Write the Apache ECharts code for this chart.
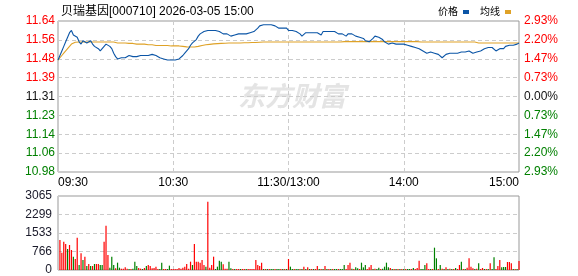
<!DOCTYPE html>
<html><head><meta charset="utf-8">
<script src="https://cdn.jsdelivr.net/npm/echarts@6/dist/echarts.min.js"></script>
<style>html,body{margin:0;padding:0;background:#fff;}#c{width:578px;height:276px;}</style>
</head><body><div id="c"></div>
<script>
const title = '贝瑞基因[000710] 2026-03-05 15:00';
const preClose = 11.31;
const priceMin = 10.9786, priceMax = 11.6414, priceStep = 0.08285;
const pctStep = 0.7325;
const priceTicks = ['10.98','11.06','11.14','11.23','11.31','11.39','11.48','11.56','11.64'];
const pctTicks = ['2.93%','2.20%','1.47%','0.73%','0.00%','0.73%','1.47%','2.20%','2.93%'];
const volTicks = ['0','766','1533','2299','3065'];
const timeTicks = ['09:30','10:30','11:30/13:00','14:00','15:00'];

const price = [
11.47,11.49,11.51,11.53,11.55,11.57,11.59,11.60,11.58,11.585,
11.57,11.55,11.54,11.555,11.56,11.545,11.55,11.555,11.54,11.53,
11.535,11.52,11.51,11.52,11.53,11.54,11.545,11.53,11.52,11.50,
11.485,11.475,11.48,11.48,11.475,11.48,11.48,11.49,11.495,11.485,
11.49,11.485,11.49,11.49,11.485,11.49,11.485,11.49,11.49,11.495,
11.495,11.49,11.485,11.48,11.48,11.475,11.475,11.47,11.475,11.47,
11.475,11.47,11.47,11.475,11.48,11.49,11.50,11.51,11.52,11.535,
11.545,11.55,11.56,11.575,11.585,11.59,11.595,11.60,11.60,11.60,
11.60,11.60,11.60,11.60,11.595,11.59,11.585,11.58,11.585,11.58,
11.575,11.58,11.58,11.58,11.585,11.58,11.585,11.585,11.585,11.585,
11.59,11.595,11.595,11.60,11.61,11.62,11.625,11.625,11.625,11.625,
11.625,11.625,11.62,11.62,11.615,11.61,11.61,11.61,11.61,11.61,
11.60,11.60,11.60,11.60,11.595,11.59,11.585,11.575,11.58,11.59,
11.59,11.59,11.59,11.59,11.59,11.59,11.59,11.58,11.595,11.595,
11.595,11.595,11.595,11.60,11.595,11.59,11.585,11.58,11.585,11.58,
11.575,11.585,11.59,11.585,11.58,11.575,11.575,11.57,11.565,11.565,
11.555,11.55,11.55,11.555,11.565,11.575,11.58,11.57,11.565,11.56,
11.55,11.545,11.54,11.535,11.545,11.54,11.54,11.54,11.54,11.54,
11.54,11.54,11.535,11.535,11.53,11.53,11.525,11.525,11.52,11.515,
11.51,11.505,11.50,11.505,11.505,11.50,11.50,11.505,11.495,11.49,
11.48,11.485,11.495,11.495,11.50,11.495,11.50,11.495,11.50,11.50,
11.505,11.50,11.505,11.505,11.51,11.505,11.50,11.505,11.505,11.51,
11.51,11.515,11.52,11.525,11.525,11.525,11.525,11.52,11.51,11.515,
11.52,11.52,11.52,11.53,11.535,11.535,11.535,11.535,11.54,11.54,
11.545];

const avg = [
11.47,11.48,11.49,11.50,11.51,11.52,11.53,11.54,11.545,11.548,
11.549,11.549,11.549,11.549,11.549,11.549,11.549,11.549,11.549,11.549,
11.549,11.549,11.549,11.549,11.549,11.549,11.549,11.549,11.549,11.549,
11.545,11.545,11.545,11.545,11.545,11.545,11.543,11.543,11.543,11.543,
11.543,11.54,11.54,11.54,11.54,11.54,11.537,11.537,11.537,11.537,
11.534,11.534,11.534,11.534,11.534,11.534,11.534,11.534,11.534,11.532,
11.532,11.532,11.532,11.532,11.532,11.53,11.529,11.528,11.527,11.527,
11.527,11.527,11.528,11.53,11.532,11.534,11.535,11.537,11.538,11.539,
11.54,11.541,11.541,11.542,11.542,11.543,11.543,11.544,11.544,11.545,
11.545,11.545,11.545,11.545,11.545,11.545,11.545,11.546,11.546,11.546,
11.546,11.547,11.547,11.547,11.548,11.548,11.549,11.549,11.549,11.549,
11.549,11.549,11.549,11.549,11.549,11.549,11.549,11.549,11.549,11.549,
11.549,11.549,11.549,11.549,11.549,11.549,11.549,11.549,11.549,11.549,
11.549,11.549,11.549,11.549,11.549,11.549,11.549,11.549,11.549,11.549,
11.549,11.549,11.549,11.549,11.549,11.549,11.549,11.549,11.551,11.551,
11.551,11.551,11.551,11.551,11.551,11.551,11.551,11.551,11.551,11.551,
11.551,11.551,11.551,11.551,11.551,11.551,11.551,11.551,11.551,11.551,
11.551,11.551,11.551,11.551,11.551,11.551,11.551,11.551,11.551,11.551,
11.551,11.551,11.551,11.551,11.551,11.551,11.551,11.551,11.551,11.549,
11.549,11.549,11.549,11.549,11.549,11.549,11.549,11.549,11.549,11.549,
11.549,11.549,11.549,11.549,11.549,11.549,11.549,11.549,11.549,11.549,
11.549,11.549,11.549,11.549,11.549,11.549,11.549,11.549,11.549,11.545,
11.545,11.545,11.545,11.545,11.545,11.545,11.545,11.545,11.545,11.545,
11.545,11.545,11.545,11.545,11.545,11.545,11.545,11.545,11.545,11.545,
11.545];

const volume = [
0,1242,718,1173,1076,869,1035,828,552,455,
1339,207,690,414,552,166,248,166,166,248,
248,248,207,207,1173,1835,621,97,552,207,
69,304,97,55,55,110,55,41,41,55,
345,166,83,55,41,83,166,207,166,69,
83,138,41,41,304,41,41,41,180,41,
41,41,41,83,55,97,138,248,55,345,
207,1076,345,345,304,414,207,138,2829,97,
207,552,41,138,386,345,235,55,55,345,
69,41,41,41,41,41,41,41,41,41,
41,41,41,414,207,166,304,41,41,41,
41,41,41,41,41,41,41,41,41,41,
455,138,41,41,41,41,41,41,138,41,
110,41,41,41,41,166,41,41,41,166,
41,41,41,41,41,41,41,41,41,207,
41,207,304,55,41,110,69,41,304,110,
207,41,110,207,41,55,41,97,41,55,
138,304,110,83,41,41,41,41,41,41,
41,41,41,41,41,83,41,83,386,41,
41,207,276,41,41,41,925,483,41,207,
55,41,110,41,55,41,41,83,41,207,
345,41,41,97,483,138,69,41,55,276,
41,83,41,41,41,276,41,525,41,166,
414,110,124,124,331,331,276,41,41,41,
373];

const direction =
'rrrrrgrrgr'+'rgrgrgrgrg'+'rrggrrrggg'+'rggrrrrgrg'+'ggrrgrgrrr'+
'rrrggrrggr'+'rrrrrrrrrr'+'grrrrrrgrr'+'rrggggrrrg'+'grgrrgrrgr'+
'rrrrrrrgrg'+'rggrggrgrg'+'rggrggrgrg'+'rgrgrrgrgr'+'grgrggrggg'+
'rrrgrggrgg'+'grrrgrggrg'+'gggrgrgrgr'+'grggrgrrrg'+'ggrrgrggrg'+
'rgrgrgrgrr'+'grgrrrrgrg'+'rrgrgrggrr'+'rgggrrrgrg'+'r';

const RED = '#ff0000', GREEN = '#008000', DARK = '#111111';
const FONT = '"Liberation Sans", Arial, "Noto Sans CJK SC", sans-serif';

const chart = echarts.init(document.getElementById('c'), null, {renderer: 'canvas'});
const gridLines = {show: true, lineStyle: {color: '#cccccc', type: [4, 3], width: 1}};

chart.setOption({
  animation: false,
  backgroundColor: '#ffffff',
  title: {
    text: title, left: 56, top: 1,
    textStyle: {fontSize: 12, fontWeight: 'normal', color: '#000', fontFamily: FONT}
  },
  legend: {
    right: 62, top: 2, align: 'right', icon: 'rect', itemWidth: 6, itemHeight: 4, itemGap: 11,
    textStyle: {fontSize: 10, color: '#000', fontFamily: FONT, padding: [0, 0, 0, 0]},
    data: ['价格', '均线']
  },
  graphic: [{
    type: 'text', left: 238, top: 82, z: -10, silent: true,
    style: {text: '东方财富', font: 'italic bold 27px "Noto Sans CJK SC", sans-serif', fill: '#e4e4e4'}
  }],
  grid: [
    {left: 58, top: 21, width: 461, height: 151, show: true, borderColor: '#999999', borderWidth: 1, backgroundColor: 'transparent'},
    {left: 58, top: 196, width: 461, height: 74, show: true, borderColor: '#999999', borderWidth: 1, backgroundColor: 'transparent'}
  ],
  xAxis: [
    {type: 'value', gridIndex: 0, min: 0, max: 240, interval: 60,
     axisLine: {show: false}, axisTick: {show: false}, splitLine: gridLines,
     axisLabel: {show: true, margin: 5, color: '#000', fontSize: 12, fontFamily: FONT,
       alignMinLabel: 'left', alignMaxLabel: 'right',
       formatter: v => timeTicks[Math.round(v / 60)]}},
    {type: 'value', gridIndex: 1, min: 0, max: 240, interval: 60,
     axisLine: {show: false}, axisTick: {show: false}, splitLine: gridLines, axisLabel: {show: false}}
  ],
  yAxis: [
    {type: 'value', gridIndex: 0, min: priceMin, max: priceMax, interval: priceStep,
     axisLine: {show: false}, axisTick: {show: false}, splitLine: gridLines,
     axisLabel: {margin: 3, fontSize: 12, fontFamily: FONT,
       formatter: v => priceTicks[Math.round((v - priceMin) / priceStep)],
       color: v => { const i = Math.round((v - priceMin) / priceStep); return i > 4 ? RED : (i < 4 ? GREEN : DARK); }}},
    {type: 'value', gridIndex: 0, min: -4 * pctStep, max: 4 * pctStep, interval: pctStep, position: 'right',
     axisLine: {show: false}, axisTick: {show: false}, splitLine: {show: false},
     axisLabel: {margin: 5, fontSize: 12, fontFamily: FONT,
       formatter: v => pctTicks[8 - (Math.round(v / pctStep) + 4)],
       color: v => { const i = Math.round(v / pctStep); return i > 0 ? RED : (i < 0 ? GREEN : DARK); }}},
    {type: 'value', gridIndex: 1, min: 0, max: 3065, interval: 766.25,
     axisLine: {show: false}, axisTick: {show: false}, splitLine: gridLines,
     axisLabel: {margin: 6, fontSize: 12, fontFamily: FONT, color: '#1a1a2a',
       formatter: v => volTicks[Math.round(v / 766.25)]}}
  ],
  series: [
    {name: '价格', type: 'line', xAxisIndex: 0, yAxisIndex: 0, symbol: 'none', z: 3,
     lineStyle: {color: '#0b55a6', width: 1.1}, itemStyle: {color: '#0b55a6'},
     data: price.map((p, i) => [i, p])},
    {name: '均线', type: 'line', xAxisIndex: 0, yAxisIndex: 0, symbol: 'none', z: 2,
     lineStyle: {color: '#dfa227', width: 1.1}, itemStyle: {color: '#dfa227'},
     data: avg.map((p, i) => [i, p])},
    {name: '成交量', type: 'bar', xAxisIndex: 1, yAxisIndex: 2, barWidth: 1.2,
     data: volume.map((v, i) => ({value: [i, v], itemStyle: {color: direction[i] === 'r' ? RED : GREEN}}))}
  ]
});
</script></body></html>
